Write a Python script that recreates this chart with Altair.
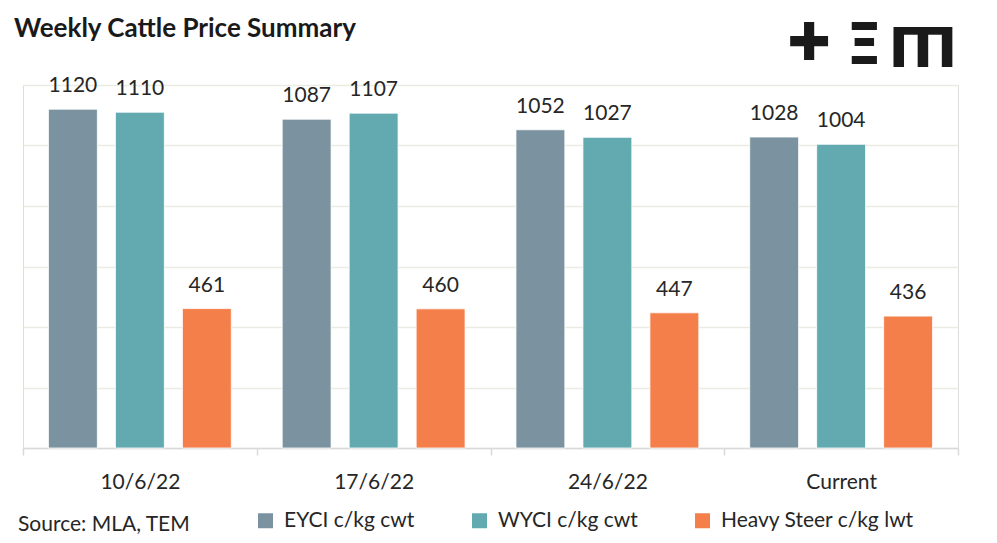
import altair as alt
import pandas as pd

title_text = "Weekly Cattle Price Summary"
source_text = "Source: MLA, TEM"
categories = ["10/6/22", "17/6/22", "24/6/22", "Current"]
series = ["EYCI c/kg cwt", "WYCI c/kg cwt", "Heavy Steer c/kg lwt"]
eyci = [1120, 1087, 1052, 1028]
wyci = [1110, 1107, 1027, 1004]
heavy = [461, 460, 447, 436]
colors = ["#7B93A0", "#62A9B0", "#F47F4B"]
grid_values = [0, 200, 400, 600, 800, 1000, 1200]

rows = []
for s, vals in zip(series, [eyci, wyci, heavy]):
    for c, v in zip(categories, vals):
        rows.append({"category": c, "series": s, "value": v})
df = pd.DataFrame(rows)

FONT = "Lato"
TXT = "#262626"

x_enc = alt.X(
    "category:N", sort=categories,
    scale=alt.Scale(paddingInner=0, paddingOuter=0),
    axis=alt.Axis(title=None, labelAngle=0, tickBand="extent", tickSize=7,
                  tickColor="#D9D9D9", domainColor="#D9D9D9", domainWidth=1.5,
                  tickWidth=1.5, labelFont=FONT, labelFontSize=21,
                  labelColor=TXT, labelPadding=16, grid=False),
)
xo_enc = alt.XOffset("series:N", sort=series,
                     scale=alt.Scale(paddingInner=0.27, paddingOuter=0.38))
y_enc = alt.Y(
    "value:Q", scale=alt.Scale(domain=[0, 1200], nice=False),
    axis=alt.Axis(title=None, labels=False, ticks=False, domain=False,
                  values=grid_values, grid=True, gridColor="#EBEBE1",
                  gridWidth=1.5),
)

base = alt.Chart(df)
bars = base.mark_bar(stroke="#ffffff", strokeWidth=0.8).encode(
    x=x_enc, xOffset=xo_enc, y=y_enc,
    color=alt.Color("series:N", sort=series,
                    scale=alt.Scale(domain=series, range=colors),
                    legend=alt.Legend(orient="none", legendX=232, legendY=425,
                                      direction="horizontal", title=None,
                                      symbolType="square", symbolSize=225,
                                      symbolStrokeWidth=0, labelFontSize=21,
                                      labelFont=FONT, labelColor=TXT,
                                      columnPadding=54, labelOffset=8,
                                      labelLimit=400, padding=0)),
)
labels = base.mark_text(baseline="alphabetic", dy=-17, font=FONT, fontSize=21,
                        color=TXT).encode(
    x=x_enc, xOffset=xo_enc, y=y_enc, text=alt.Text("value:Q"),
)

title_df = pd.DataFrame({"t": [title_text]})
title = alt.Chart(title_df).mark_text(
    align="left", baseline="alphabetic", font=FONT, fontSize=26,
    fontWeight="bold", color="#1a1a1a").encode(
    x=alt.value(-9), y=alt.value(-48), text="t:N")

src_df = pd.DataFrame({"t": [source_text]})
source = alt.Chart(src_df).mark_text(
    align="left", baseline="middle", font=FONT, fontSize=21,
    color=TXT).encode(x=alt.value(-5), y=alt.value(440), text="t:N")

logo_df = pd.DataFrame({"t": ["\u271a", "\u039e", "\u0428"]})
plus = alt.Chart(logo_df).transform_filter("datum.t == '\u271a'").mark_text(
    align="center", baseline="middle", font="DejaVu Sans", fontSize=52,
    color="#1a1a1a").encode(
    x=alt.value(786), y=alt.value(-41), text="t:N")
xi = alt.Chart(logo_df).transform_filter("datum.t == '\u039e'").mark_text(
    align="center", baseline="alphabetic", font="DejaVu Sans", fontSize=56,
    fontWeight="bold", color="#1a1a1a").encode(
    x=alt.value(841), y=alt.value(-21), text="t:N")
sha = alt.Chart(logo_df).transform_filter("datum.t == '\u0428'").mark_text(
    align="center", baseline="middle", font="DejaVu Sans", fontSize=56,
    fontWeight="bold", color="#1a1a1a", angle=180).encode(
    x=alt.value(900), y=alt.value(-41), text="t:N")

chart = alt.layer(bars, labels, title, source, plus, xi, sha).properties(
    width=935, height=363,
    autosize=alt.AutoSizeParams(type="none"),
    padding={"left": 15, "top": 77, "right": 20, "bottom": 87},
).configure_view(stroke=None).configure(background="#ffffff")

chart.save("out.html", embed_options={"renderer": "svg", "actions": False})
